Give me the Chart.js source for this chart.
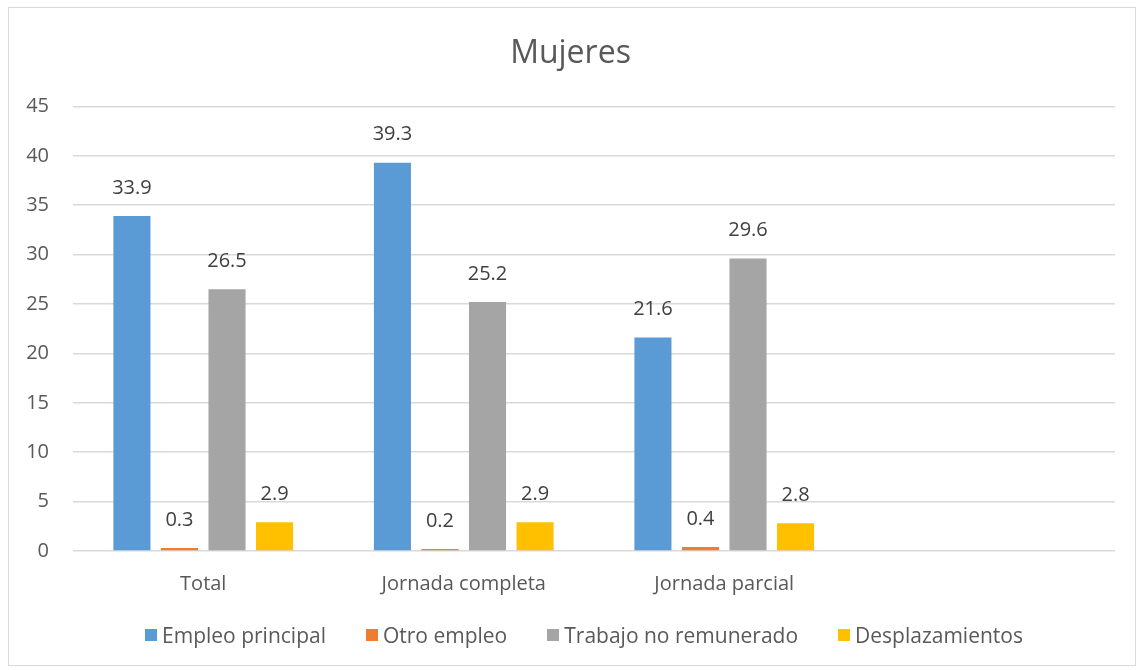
<!DOCTYPE html>
<html>
<head>
<meta charset="utf-8">
<script src="https://cdn.jsdelivr.net/npm/chart.js@4/dist/chart.umd.min.js"></script>
<style>
  body { margin: 0; background: #fff; font-family: "Open Sans", sans-serif; }
  #frame { position: absolute; left: 8px; top: 7px; width: 1126px; height: 657px; border: 1px solid #d9d9d9; }
  canvas { display: block; }
  #legend { position: absolute; left: 0; width: 1168px; top: 621px; display: flex; justify-content: center;
            font-size: 21px; line-height: 28px; color: #595959; white-space: nowrap; }
  #legend span.item { display: inline-flex; align-items: center; margin: 0 20px; }
  #legend span.box { width: 12px; height: 12px; margin-right: 5px; display: inline-block; }
</style>
</head>
<body>
<div id="frame"><canvas id="chart" width="1126" height="657"></canvas></div>
<div id="legend"></div>
<script>
// Mujeres - horas por actividad
const categories = ['Total', 'Jornada completa', 'Jornada parcial', ''];
const empleoPrincipal = [33.9, 39.3, 21.6, null];
const otroEmpleo = [0.3, 0.2, 0.4, null];
const trabajoNoRemunerado = [26.5, 25.2, 29.6, null];
const desplazamientos = [2.9, 2.9, 2.8, null];
const yTicks = [0, 5, 10, 15, 20, 25, 30, 35, 40, 45];

const textColor = '#595959';
const fontFamily = '"Open Sans", sans-serif';

// draws the value above each bar
const valueLabels = {
    id: 'valueLabels',
    afterDatasetsDraw(chart) {
        const ctx = chart.ctx;
        ctx.save();
        ctx.font = '20px ' + fontFamily;
        ctx.fillStyle = '#404040';
        ctx.textAlign = 'center';
        ctx.textBaseline = 'middle';
        chart.data.datasets.forEach((ds, i) => {
            chart.getDatasetMeta(i).data.forEach((bar, j) => {
                const v = ds.data[j];
                if (v === null || v === undefined) return;
                ctx.fillText(v.toFixed(1), bar.x, bar.y - 28);
            });
        });
        ctx.restore();
    }
};

function makeDataset(label, data, color) {
    return {
        label: label,
        data: data,
        backgroundColor: color,
        categoryPercentage: 0.73,
        barPercentage: 0.78
    };
}

const chart = new Chart(document.getElementById('chart'), {
    type: 'bar',
    data: {
        labels: categories,
        datasets: [
            makeDataset('Empleo principal', empleoPrincipal, '#5b9bd5'),
            makeDataset('Otro empleo', otroEmpleo, '#ed7d31'),
            makeDataset('Trabajo no remunerado', trabajoNoRemunerado, '#a5a5a5'),
            makeDataset('Desplazamientos', desplazamientos, '#ffc000')
        ]
    },
    options: {
        responsive: false,
        animation: false,
        layout: { padding: { left: 17, right: 20, top: 27, bottom: 48 } },
        plugins: {
            title: {
                display: true,
                text: 'Mujeres',
                color: textColor,
                font: { size: 32, family: fontFamily, weight: 'normal' },
                padding: { top: 0, bottom: 33 }
            },
            legend: { display: false },
            tooltip: { enabled: false }
        },
        scales: {
            x: {
                grid: { display: false, drawTicks: false },
                border: { display: false },
                ticks: {
                    color: textColor,
                    font: { size: 20, family: fontFamily },
                    padding: 21
                }
            },
            y: {
                min: 0,
                max: 45,
                afterBuildTicks(axis) {
                    axis.ticks = yTicks.map(v => ({ value: v }));
                },
                afterFit(axis) { axis.width = 47; },
                grid: { color: '#d9d9d9', lineWidth: 1.5, drawTicks: false },
                border: { display: false },
                ticks: {
                    color: textColor,
                    font: { size: 20, family: fontFamily },
                    padding: 24
                }
            }
        }
    },
    plugins: [valueLabels]
});

// legend built from the chart's datasets
document.getElementById('legend').innerHTML = chart.data.datasets.map(ds =>
    `<span class="item"><span class="box" style="background:${ds.backgroundColor}"></span>${ds.label}</span>`
).join('');
</script>
</body>
</html>
